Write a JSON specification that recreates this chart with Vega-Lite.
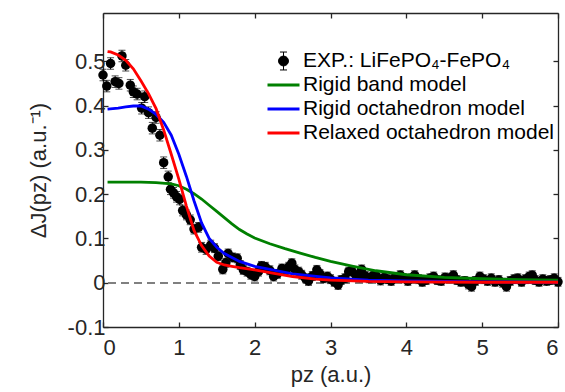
{
  "$schema": "https://vega.github.io/schema/vega-lite/v6.json",
  "width": 455,
  "height": 314,
  "autosize": {"type": "none"},
  "padding": {"left": 103, "top": 13, "right": 7, "bottom": 65},
  "background": "white",
  "config": {
    "view": {"stroke": null},
    "font": "Liberation Sans",
    "axis": {
      "domainColor": "#262626",
      "domainWidth": 1.3,
      "tickColor": "#262626",
      "tickWidth": 1.3,
      "tickSize": -5,
      "labelFont": "Liberation Sans",
      "labelFontSize": 22,
      "labelColor": "#262626",
      "titleFont": "Liberation Sans",
      "titleFontSize": 22,
      "titleFontWeight": "normal",
      "titleColor": "#262626",
      "grid": false
    }
  },
  "datasets": {
    "exp": [
      {"x": 0.00, "y": 0.469, "e": 0.013}, {"x": 0.05, "y": 0.444, "e": 0.013}, {"x": 0.10, "y": 0.495, "e": 0.013},
      {"x": 0.16, "y": 0.454, "e": 0.013}, {"x": 0.21, "y": 0.450, "e": 0.013}, {"x": 0.25, "y": 0.512, "e": 0.013},
      {"x": 0.30, "y": 0.491, "e": 0.013}, {"x": 0.36, "y": 0.446, "e": 0.013}, {"x": 0.40, "y": 0.431, "e": 0.013},
      {"x": 0.45, "y": 0.426, "e": 0.013}, {"x": 0.51, "y": 0.394, "e": 0.013}, {"x": 0.55, "y": 0.420, "e": 0.013},
      {"x": 0.60, "y": 0.384, "e": 0.013}, {"x": 0.65, "y": 0.349, "e": 0.013}, {"x": 0.70, "y": 0.373, "e": 0.013},
      {"x": 0.75, "y": 0.333, "e": 0.013}, {"x": 0.80, "y": 0.271, "e": 0.013}, {"x": 0.86, "y": 0.239, "e": 0.013},
      {"x": 0.89, "y": 0.211, "e": 0.012}, {"x": 0.93, "y": 0.203, "e": 0.012}, {"x": 0.97, "y": 0.194, "e": 0.012},
      {"x": 1.01, "y": 0.188, "e": 0.012}, {"x": 1.05, "y": 0.163, "e": 0.012}, {"x": 1.10, "y": 0.153, "e": 0.011},
      {"x": 1.15, "y": 0.142, "e": 0.011}, {"x": 1.20, "y": 0.121, "e": 0.011}, {"x": 1.26, "y": 0.125, "e": 0.011},
      {"x": 1.30, "y": 0.080, "e": 0.011}, {"x": 1.36, "y": 0.075, "e": 0.011}, {"x": 1.42, "y": 0.085, "e": 0.011},
      {"x": 1.47, "y": 0.078, "e": 0.010}, {"x": 1.52, "y": 0.060, "e": 0.010}, {"x": 1.58, "y": 0.030, "e": 0.010},
      {"x": 1.62, "y": 0.045, "e": 0.010}, {"x": 1.65, "y": 0.066, "e": 0.010}, {"x": 1.71, "y": 0.057, "e": 0.010},
      {"x": 1.77, "y": 0.055, "e": 0.010}, {"x": 1.81, "y": 0.040, "e": 0.010}, {"x": 1.85, "y": 0.029, "e": 0.010},
      {"x": 1.90, "y": 0.025, "e": 0.010}, {"x": 1.95, "y": 0.018, "e": 0.010}, {"x": 2.00, "y": 0.014, "e": 0.010},
      {"x": 2.05, "y": 0.025, "e": 0.010}, {"x": 2.09, "y": 0.038, "e": 0.010}, {"x": 2.14, "y": 0.036, "e": 0.010},
      {"x": 2.20, "y": 0.028, "e": 0.010}, {"x": 2.25, "y": 0.014, "e": 0.010}, {"x": 2.30, "y": 0.020, "e": 0.010},
      {"x": 2.36, "y": 0.032, "e": 0.010}, {"x": 2.41, "y": 0.028, "e": 0.010}, {"x": 2.45, "y": 0.036, "e": 0.010},
      {"x": 2.49, "y": 0.044, "e": 0.010}, {"x": 2.53, "y": 0.030, "e": 0.010}, {"x": 2.58, "y": 0.025, "e": 0.010},
      {"x": 2.62, "y": 0.018, "e": 0.010}, {"x": 2.67, "y": 0.010, "e": 0.010}, {"x": 2.71, "y": 0.004, "e": 0.010},
      {"x": 2.76, "y": 0.015, "e": 0.010}, {"x": 2.82, "y": 0.029, "e": 0.010}, {"x": 2.86, "y": 0.020, "e": 0.010},
      {"x": 2.91, "y": 0.010, "e": 0.010}, {"x": 2.96, "y": 0.014, "e": 0.010}, {"x": 3.00, "y": 0.008, "e": 0.010},
      {"x": 3.05, "y": 0.002, "e": 0.010}, {"x": 3.10, "y": -0.005, "e": 0.010}, {"x": 3.14, "y": 0.006, "e": 0.010},
      {"x": 3.19, "y": 0.010, "e": 0.010}, {"x": 3.24, "y": 0.025, "e": 0.010}, {"x": 3.28, "y": 0.027, "e": 0.010},
      {"x": 3.33, "y": 0.018, "e": 0.010}, {"x": 3.38, "y": 0.012, "e": 0.010}, {"x": 3.41, "y": 0.030, "e": 0.010},
      {"x": 3.46, "y": 0.015, "e": 0.010}, {"x": 3.51, "y": 0.010, "e": 0.010}, {"x": 3.56, "y": 0.016, "e": 0.010},
      {"x": 3.61, "y": 0.014, "e": 0.010}, {"x": 3.66, "y": 0.005, "e": 0.010}, {"x": 3.71, "y": 0.012, "e": 0.010},
      {"x": 3.76, "y": 0.008, "e": 0.010}, {"x": 3.80, "y": 0.004, "e": 0.010}, {"x": 3.85, "y": 0.012, "e": 0.010},
      {"x": 3.92, "y": 0.017, "e": 0.010}, {"x": 3.97, "y": 0.010, "e": 0.010}, {"x": 4.02, "y": 0.004, "e": 0.010},
      {"x": 4.07, "y": 0.010, "e": 0.010}, {"x": 4.11, "y": 0.017, "e": 0.010}, {"x": 4.16, "y": 0.008, "e": 0.010},
      {"x": 4.21, "y": 0.002, "e": 0.010}, {"x": 4.26, "y": 0.006, "e": 0.010}, {"x": 4.31, "y": 0.010, "e": 0.010},
      {"x": 4.36, "y": 0.014, "e": 0.010}, {"x": 4.41, "y": 0.006, "e": 0.010}, {"x": 4.46, "y": 0.004, "e": 0.010},
      {"x": 4.51, "y": 0.012, "e": 0.010}, {"x": 4.56, "y": 0.010, "e": 0.010}, {"x": 4.62, "y": 0.017, "e": 0.010},
      {"x": 4.67, "y": 0.006, "e": 0.010}, {"x": 4.72, "y": 0.002, "e": 0.010}, {"x": 4.77, "y": 0.004, "e": 0.010},
      {"x": 4.82, "y": -0.004, "e": 0.010}, {"x": 4.86, "y": -0.009, "e": 0.010}, {"x": 4.91, "y": 0.004, "e": 0.010},
      {"x": 4.97, "y": 0.014, "e": 0.010}, {"x": 5.02, "y": 0.008, "e": 0.010}, {"x": 5.07, "y": 0.004, "e": 0.010},
      {"x": 5.12, "y": 0.010, "e": 0.010}, {"x": 5.17, "y": 0.002, "e": 0.010}, {"x": 5.22, "y": 0.006, "e": 0.010},
      {"x": 5.27, "y": 0.000, "e": 0.010}, {"x": 5.32, "y": -0.009, "e": 0.010}, {"x": 5.37, "y": 0.004, "e": 0.010},
      {"x": 5.42, "y": 0.008, "e": 0.010}, {"x": 5.47, "y": 0.010, "e": 0.010}, {"x": 5.52, "y": 0.002, "e": 0.010},
      {"x": 5.57, "y": 0.008, "e": 0.010}, {"x": 5.62, "y": 0.014, "e": 0.010}, {"x": 5.66, "y": 0.017, "e": 0.010},
      {"x": 5.70, "y": 0.006, "e": 0.010}, {"x": 5.75, "y": 0.002, "e": 0.010}, {"x": 5.80, "y": 0.008, "e": 0.010},
      {"x": 5.85, "y": 0.004, "e": 0.010}, {"x": 5.90, "y": 0.006, "e": 0.010}, {"x": 5.95, "y": 0.010, "e": 0.010},
      {"x": 6.00, "y": 0.002, "e": 0.010}
    ],
    "models": [
      {"model": "Rigid band model", "x": 0.06, "y": 0.227}, {"model": "Rigid band model", "x": 0.3, "y": 0.227},
      {"model": "Rigid band model", "x": 0.5, "y": 0.227}, {"model": "Rigid band model", "x": 0.7, "y": 0.226},
      {"model": "Rigid band model", "x": 0.9, "y": 0.223}, {"model": "Rigid band model", "x": 1.0, "y": 0.219},
      {"model": "Rigid band model", "x": 1.1, "y": 0.211}, {"model": "Rigid band model", "x": 1.2, "y": 0.201},
      {"model": "Rigid band model", "x": 1.3, "y": 0.189}, {"model": "Rigid band model", "x": 1.4, "y": 0.175},
      {"model": "Rigid band model", "x": 1.5, "y": 0.161}, {"model": "Rigid band model", "x": 1.6, "y": 0.147},
      {"model": "Rigid band model", "x": 1.7, "y": 0.133}, {"model": "Rigid band model", "x": 1.8, "y": 0.120},
      {"model": "Rigid band model", "x": 1.9, "y": 0.110}, {"model": "Rigid band model", "x": 2.0, "y": 0.101},
      {"model": "Rigid band model", "x": 2.2, "y": 0.088}, {"model": "Rigid band model", "x": 2.4, "y": 0.077},
      {"model": "Rigid band model", "x": 2.6, "y": 0.067}, {"model": "Rigid band model", "x": 2.8, "y": 0.057},
      {"model": "Rigid band model", "x": 3.0, "y": 0.048}, {"model": "Rigid band model", "x": 3.3, "y": 0.037},
      {"model": "Rigid band model", "x": 3.6, "y": 0.027}, {"model": "Rigid band model", "x": 4.0, "y": 0.018},
      {"model": "Rigid band model", "x": 4.5, "y": 0.012}, {"model": "Rigid band model", "x": 5.0, "y": 0.009},
      {"model": "Rigid band model", "x": 5.5, "y": 0.007}, {"model": "Rigid band model", "x": 6.0, "y": 0.006},

      {"model": "Rigid octahedron model", "x": 0.06, "y": 0.392}, {"model": "Rigid octahedron model", "x": 0.2, "y": 0.394},
      {"model": "Rigid octahedron model", "x": 0.3, "y": 0.397}, {"model": "Rigid octahedron model", "x": 0.4, "y": 0.399},
      {"model": "Rigid octahedron model", "x": 0.5, "y": 0.399}, {"model": "Rigid octahedron model", "x": 0.6, "y": 0.392},
      {"model": "Rigid octahedron model", "x": 0.7, "y": 0.380}, {"model": "Rigid octahedron model", "x": 0.8, "y": 0.362},
      {"model": "Rigid octahedron model", "x": 0.9, "y": 0.333}, {"model": "Rigid octahedron model", "x": 1.0, "y": 0.290},
      {"model": "Rigid octahedron model", "x": 1.1, "y": 0.240}, {"model": "Rigid octahedron model", "x": 1.2, "y": 0.185},
      {"model": "Rigid octahedron model", "x": 1.3, "y": 0.135}, {"model": "Rigid octahedron model", "x": 1.4, "y": 0.100},
      {"model": "Rigid octahedron model", "x": 1.5, "y": 0.080}, {"model": "Rigid octahedron model", "x": 1.6, "y": 0.066},
      {"model": "Rigid octahedron model", "x": 1.8, "y": 0.048}, {"model": "Rigid octahedron model", "x": 2.0, "y": 0.037},
      {"model": "Rigid octahedron model", "x": 2.5, "y": 0.020}, {"model": "Rigid octahedron model", "x": 3.0, "y": 0.011},
      {"model": "Rigid octahedron model", "x": 3.5, "y": 0.006}, {"model": "Rigid octahedron model", "x": 4.0, "y": 0.004},
      {"model": "Rigid octahedron model", "x": 5.0, "y": 0.002}, {"model": "Rigid octahedron model", "x": 6.0, "y": 0.001},

      {"model": "Relaxed octahedron model", "x": 0.06, "y": 0.522}, {"model": "Relaxed octahedron model", "x": 0.1, "y": 0.521},
      {"model": "Relaxed octahedron model", "x": 0.2, "y": 0.514}, {"model": "Relaxed octahedron model", "x": 0.3, "y": 0.502},
      {"model": "Relaxed octahedron model", "x": 0.4, "y": 0.483}, {"model": "Relaxed octahedron model", "x": 0.5, "y": 0.456},
      {"model": "Relaxed octahedron model", "x": 0.6, "y": 0.427}, {"model": "Relaxed octahedron model", "x": 0.7, "y": 0.393},
      {"model": "Relaxed octahedron model", "x": 0.8, "y": 0.345}, {"model": "Relaxed octahedron model", "x": 0.9, "y": 0.290},
      {"model": "Relaxed octahedron model", "x": 1.0, "y": 0.234}, {"model": "Relaxed octahedron model", "x": 1.1, "y": 0.173},
      {"model": "Relaxed octahedron model", "x": 1.2, "y": 0.118}, {"model": "Relaxed octahedron model", "x": 1.3, "y": 0.084},
      {"model": "Relaxed octahedron model", "x": 1.4, "y": 0.060}, {"model": "Relaxed octahedron model", "x": 1.5, "y": 0.046},
      {"model": "Relaxed octahedron model", "x": 1.6, "y": 0.040}, {"model": "Relaxed octahedron model", "x": 1.7, "y": 0.037},
      {"model": "Relaxed octahedron model", "x": 1.8, "y": 0.034}, {"model": "Relaxed octahedron model", "x": 2.0, "y": 0.029},
      {"model": "Relaxed octahedron model", "x": 2.2, "y": 0.023}, {"model": "Relaxed octahedron model", "x": 2.5, "y": 0.014},
      {"model": "Relaxed octahedron model", "x": 2.8, "y": 0.008}, {"model": "Relaxed octahedron model", "x": 3.0, "y": 0.006},
      {"model": "Relaxed octahedron model", "x": 3.5, "y": 0.003}, {"model": "Relaxed octahedron model", "x": 4.0, "y": 0.002},
      {"model": "Relaxed octahedron model", "x": 5.0, "y": 0.001}, {"model": "Relaxed octahedron model", "x": 6.0, "y": 0.001}
    ],
    "legend": [
      {"series": "EXP.: LiFePO₄-FePO₄"},
      {"series": "Rigid band model"},
      {"series": "Rigid octahedron model"},
      {"series": "Relaxed octahedron model"}
    ]
  },
  "resolve": {"axis": {"x": "independent", "y": "independent"}},
  "layer": [
    {
      "data": {"name": "models"},
      "mark": {"type": "rule", "color": "#808080", "strokeWidth": 1.5, "strokeDash": [8, 5]},
      "encoding": {
        "y": {"datum": 0, "type": "quantitative", "scale": {"domain": [-0.1, 0.609], "nice": false, "zero": false},
          "axis": {"orient": "right", "labels": false, "title": null, "values": [-0.1, 0, 0.1, 0.2, 0.3, 0.4, 0.5], "domain": true}}
      }
    },
    {
      "data": {"name": "exp"},
      "mark": {"type": "errorbar", "color": "black", "thickness": 1, "ticks": {"size": 7, "color": "black", "thickness": 1}},
      "encoding": {
        "x": {"field": "x", "type": "quantitative", "scale": {"domain": [0, 6], "nice": false, "zero": false},
          "axis": {"orient": "top", "labels": false, "title": null, "values": [0, 1, 2, 3, 4, 5, 6]}},
        "y": {"field": "y", "type": "quantitative", "axis": null},
        "yError": {"field": "e"}
      }
    },
    {
      "data": {"name": "exp"},
      "mark": {"type": "point", "filled": true, "color": "black", "opacity": 1, "size": 90},
      "encoding": {
        "x": {"field": "x", "type": "quantitative",
          "axis": {"orient": "bottom", "title": "pz (a.u.)", "values": [0, 1, 2, 3, 4, 5, 6], "labelPadding": 15, "titlePadding": 6}},
        "y": {"field": "y", "type": "quantitative",
          "axis": {"orient": "left", "title": "ΔJ(pz) (a.u.⁻¹)", "values": [-0.1, 0, 0.1, 0.2, 0.3, 0.4, 0.5],
            "labelExpr": "replace(format(datum.value, '.1~f'), '−', '-')", "labelPadding": 3, "titlePadding": 17}}
      }
    },
    {
      "data": {"name": "models"},
      "mark": {"type": "line", "strokeWidth": 2.8},
      "encoding": {
        "x": {"field": "x", "type": "quantitative", "axis": null},
        "y": {"field": "y", "type": "quantitative", "axis": null},
        "color": {"field": "model", "type": "nominal", "legend": null,
          "scale": {"domain": ["Rigid band model", "Rigid octahedron model", "Relaxed octahedron model"], "range": ["#008000", "#0000ff", "#ff0000"]}}
      }
    },
    {
      "data": {"name": "legend"},
      "mark": {"type": "point", "filled": true, "opacity": 1},
      "encoding": {
        "x": {"field": "x", "type": "quantitative", "axis": null},
        "y": {"field": "y", "type": "quantitative", "axis": null},
        "fill": {"field": "series", "type": "nominal",
          "scale": {"domain": ["EXP.: LiFePO₄-FePO₄", "Rigid band model", "Rigid octahedron model", "Relaxed octahedron model"], "range": ["#000000", "#008000", "#0000ff", "#ff0000"]},
          "legend": {"title": null, "orient": "none", "legendX": 163, "legendY": 38, "padding": 0, "clipHeight": 20, "rowPadding": 3, "labelOffset": 2, "labelFont": "Liberation Sans", "labelFontSize": 21, "labelColor": "#000000", "labelLimit": 400}},
        "stroke": {"field": "series", "type": "nominal",
          "scale": {"domain": ["EXP.: LiFePO₄-FePO₄", "Rigid band model", "Rigid octahedron model", "Relaxed octahedron model"], "range": ["#000000", "#008000", "#0000ff", "#ff0000"]},
          "legend": {"title": null, "orient": "none", "legendX": 163, "legendY": 38, "padding": 0, "clipHeight": 20, "rowPadding": 3, "labelOffset": 2, "labelFont": "Liberation Sans", "labelFontSize": 21, "labelColor": "#000000", "labelLimit": 400}},
        "shape": {"field": "series", "type": "nominal",
          "scale": {"domain": ["EXP.: LiFePO₄-FePO₄", "Rigid band model", "Rigid octahedron model", "Relaxed octahedron model"],
            "range": ["M-0.31,0A0.31,0.31 0 1,1 0.31,0A0.31,0.31 0 1,1 -0.31,0Z M0,-0.56L0,0.56 M-0.22,-0.56L0.22,-0.56 M-0.22,0.56L0.22,0.56", "stroke", "stroke", "stroke"]},
          "legend": {"title": null, "orient": "none", "legendX": 163, "legendY": 38, "padding": 0, "clipHeight": 20, "rowPadding": 3, "labelOffset": 2, "labelFont": "Liberation Sans", "labelFontSize": 21, "labelColor": "#000000", "labelLimit": 400}},
        "strokeWidth": {"field": "series", "type": "nominal",
          "scale": {"type": "ordinal", "domain": ["EXP.: LiFePO₄-FePO₄", "Rigid band model", "Rigid octahedron model", "Relaxed octahedron model"], "range": [1, 2.8, 2.8, 2.8]},
          "legend": {"title": null, "orient": "none", "legendX": 163, "legendY": 38, "padding": 0, "clipHeight": 20, "rowPadding": 3, "labelOffset": 2, "labelFont": "Liberation Sans", "labelFontSize": 21, "labelColor": "#000000", "labelLimit": 400}},
        "size": {"field": "series", "type": "nominal",
          "scale": {"type": "ordinal", "domain": ["EXP.: LiFePO₄-FePO₄", "Rigid band model", "Rigid octahedron model", "Relaxed octahedron model"], "range": [1024, 1024, 1024, 1024]},
          "legend": {"title": null, "orient": "none", "legendX": 163, "legendY": 38, "padding": 0, "clipHeight": 20, "rowPadding": 3, "labelOffset": 2, "labelFont": "Liberation Sans", "labelFontSize": 21, "labelColor": "#000000", "labelLimit": 400}}
      }
    }
  ]
}
